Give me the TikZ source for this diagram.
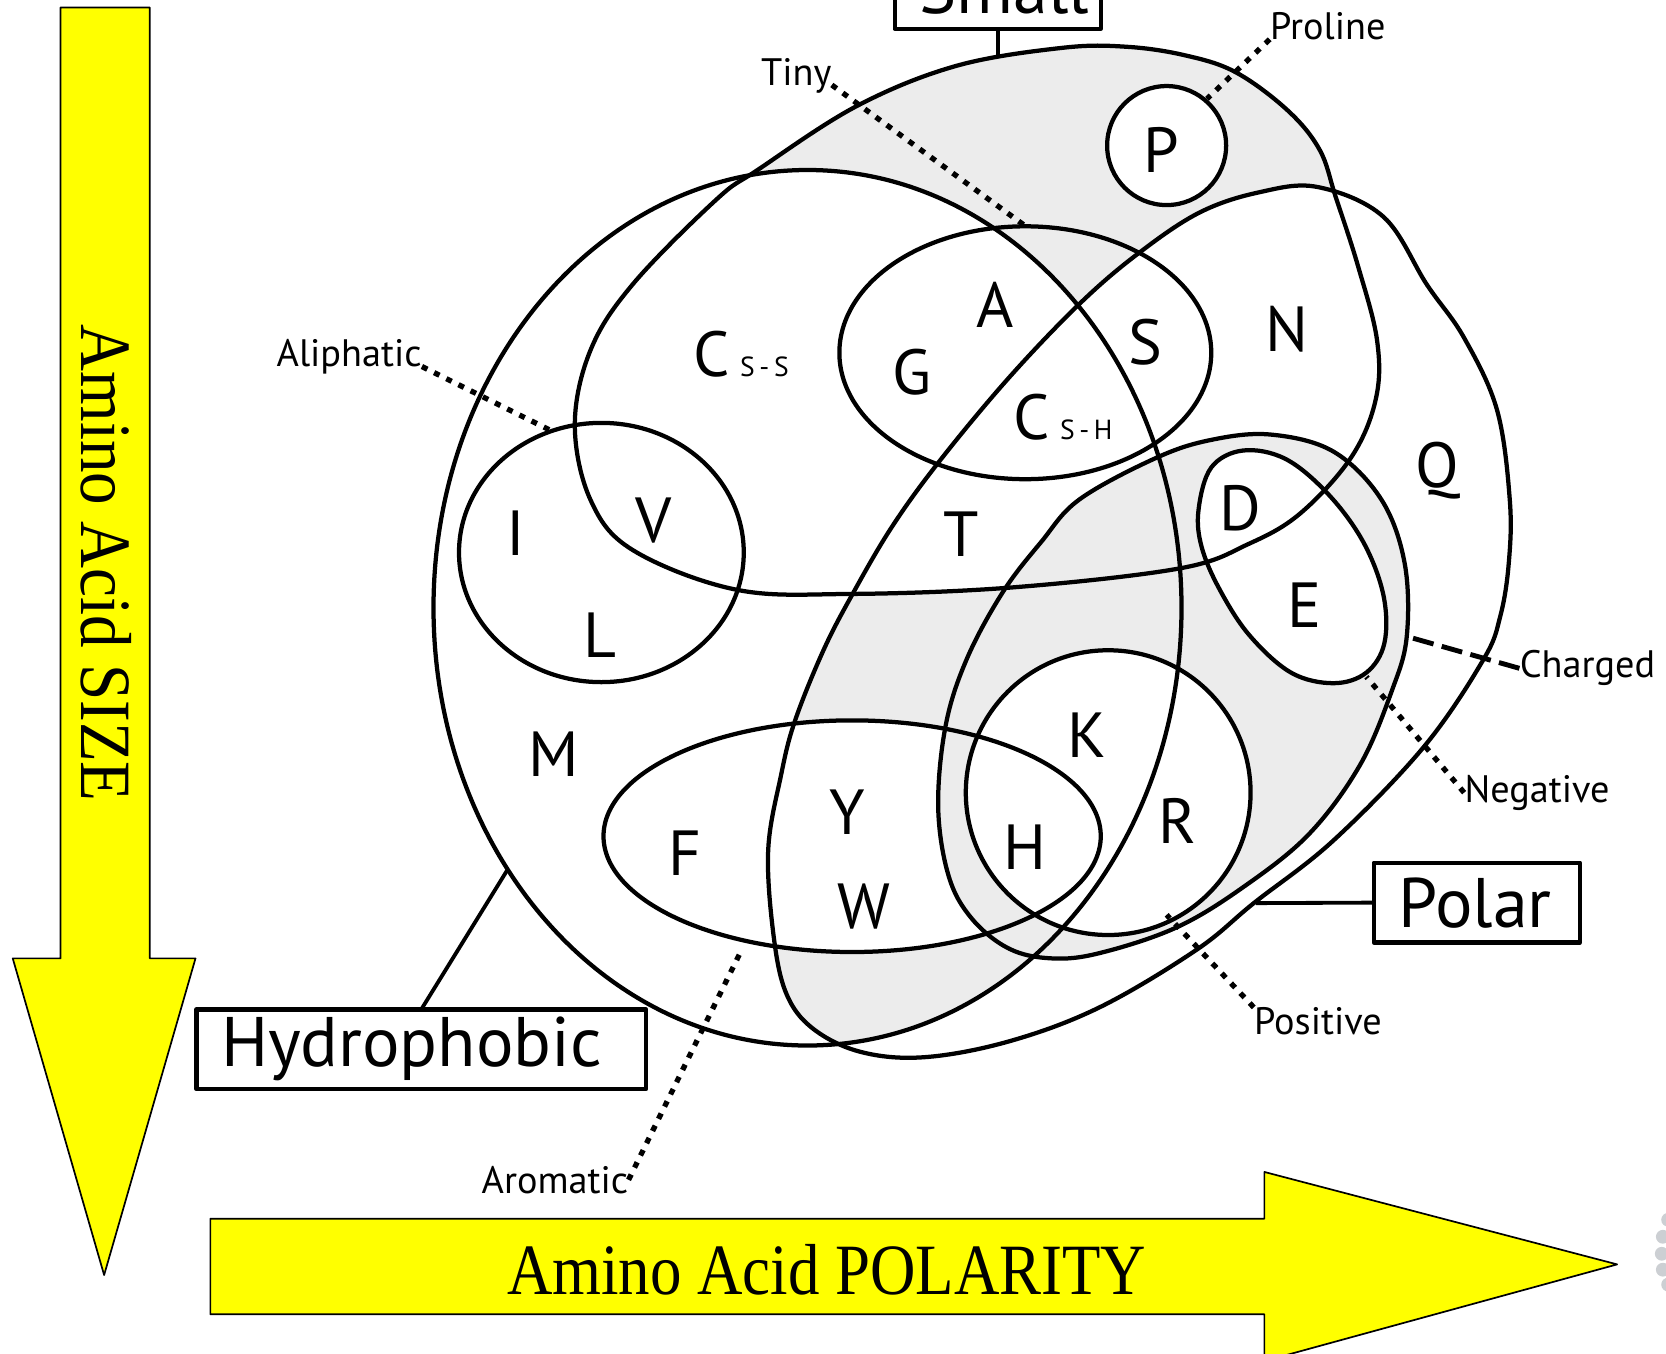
\documentclass[tikz,border=0pt]{standalone}
\usepackage{fontspec}
\usepackage{graphicx}
\setmainfont{PT Sans}
\newfontfamily\timesfam{Liberation Serif}
\definecolor{shadegray}{RGB}{236,236,236}
\definecolor{axisyellow}{RGB}{255,255,0}
\definecolor{dotgray}{RGB}{204,207,211}
\begin{document}
\begin{tikzpicture}[x=0.5pt,y=-0.5pt,line join=round,
  outl/.style={line width=2pt},
  conn/.style={line width=1.8pt},
  dotl/.style={line width=2.5pt,dash pattern=on 2.8pt off 3.6pt},
  dashl/.style={line width=2.3pt,dash pattern=on 10pt off 4pt},
  lab/.style={font=\fontsize{18}{20}\selectfont,inner sep=0pt},
  aa/.style={font=\fontsize{30}{30}\selectfont,inner sep=0pt},
  tagbox/.style={draw,line width=2pt,fill=white,font=\fontsize{33}{36}\selectfont,minimum height=37.5pt,inner xsep=11.5pt,inner ysep=0pt,align=left},
  axisarrow/.style={fill=axisyellow,draw=black,line width=0.8pt},
  axislab/.style={font=\timesfam\fontsize{34}{34}\selectfont,inner sep=0pt}
]
\useasboundingbox (0,0) rectangle (1568,1274);
\clip (0,0) rectangle (1568,1274);

% ---------- shape paths ----------
\def\hydroP{(760,572) ellipse [x radius=352, y radius=412]}
\def\tinyP{(965,332) ellipse [x radius=175, y radius=119]}
\def\alipP{(566,520) ellipse [x radius=134, y radius=122]}
\def\proP{(1098,137) ellipse [x radius=56, y radius=56]}
\def\aroP{(802,787) ellipse [x radius=234, y radius=109]}
\def\posP{(1043,746) ellipse [x radius=134, y radius=134]}
\def\smallP{plot[smooth cycle,tension=0.6] coordinates {(541,400) (556,329) (596,267) (674,188) (713,160) (806,100) (900,62) (1000,45) (1060,44) (1115,52) (1163,68) (1212,104) (1242,141) (1257,185) (1278,250) (1296,320) (1295,375) (1272,430) (1224,483) (1175,512) (1110,535) (951,553) (800,559) (693,555) (596,518) (556,471)}}
\def\polarP{plot[smooth cycle,tension=0.6] coordinates {(1017,285) (1072,238) (1129,200) (1185,181) (1240,176) (1302,204) (1343,268) (1378,318) (1409,386) (1421,471) (1420,530) (1412,580) (1396,621) (1340,703) (1255,791) (1180,850) (1126,894) (1035,948) (950,980) (870,995) (810,990) (765,968) (740,935) (728,880) (723,800) (735,730) (748,679) (775,612) (803,558) (840,495) (885,433) (950,355)}}
\def\chargedP{plot[smooth cycle,tension=0.6] coordinates {(1196,409) (1255,425) (1300,470) (1322,530) (1324,599) (1310,650) (1280,720) (1232,785) (1170,835) (1107,873) (1035,897) (990,902) (950,893) (915,865) (893,825) (883,760) (890,683) (910,620) (944,557) (980,510) (1016,470) (1088,431) (1140,414)}}
\def\negP{plot[smooth cycle,tension=0.6] coordinates {(1128,480) (1140,440) (1170,424) (1210,432) (1250,465) (1283,510) (1302,560) (1303,605) (1286,633) (1255,643) (1215,633) (1176,598) (1148,555) (1131,515)}}

% ---------- axis arrows ----------
\draw[axisarrow] (57,7) -- (141,7) -- (141,902) -- (184,902) -- (98,1200) -- (12,902) -- (57,902) -- cycle;
\draw[axisarrow] (198,1147) -- (1190,1147) -- (1190,1103) -- (1522,1190) -- (1190,1281) -- (1190,1237) -- (198,1237) -- cycle;
\node[axislab,rotate=-90] (sizelab) at (100,530) {\scalebox{0.9}[1]{Amino Acid SIZE}};
\node[axislab] (pollab) at (778,1195) {\scalebox{0.87}[1]{Amino Acid POLARITY}};
\foreach \p in {(1570,1148),(1565,1164),(1564,1180),(1565,1195),(1570,1209)} \fill[dotgray] \p circle [radius=6.5];

% ---------- shading ----------
\fill[shadegray] \smallP;
\fill[white] \hydroP;
\fill[white] \polarP;
\fill[white] \proP;
\begin{scope}
  \clip \polarP;
  \fill[shadegray] \hydroP;
\end{scope}
\begin{scope}
  \clip \polarP;
  \clip \hydroP;
  \fill[white] \smallP;
  \fill[white] \aroP;
\end{scope}
\fill[shadegray] \chargedP;
\fill[white] \negP;
\fill[white] \posP;

% ---------- outlines ----------
\draw[outl] \hydroP;
\draw[outl] \smallP;
\draw[outl] \tinyP;
\draw[outl] \alipP;
\draw[outl] \proP;
\draw[outl] \polarP;
\draw[outl] \chargedP;
\draw[outl] \negP;
\draw[outl] \posP;
\draw[outl] \aroP;

% ---------- amino acid letters ----------
\node[aa] (P) at (1093,141) {P};
\node[aa] (A) at (937,287) {A};
\node[aa] (G) at (858,350) {G};
\node[aa] (S) at (1078,322) {S};
\node[aa] (N) at (1211,310) {N};
\node[aa] (T) at (905,503) {T};
\node[aa] (V) at (615,490) {V};
\node[aa] (I) at (485,502) {I};
\node[aa] (L) at (565,598) {L};
\node[aa] (D) at (1167,478) {D};
\node[aa] (E) at (1228,570) {E};
\node[aa] (Q) at (1353,443) {Q};
\node[aa] (M) at (521,710) {M};
\node[aa] (K) at (1023,692) {K};
\node[aa] (R) at (1108,773) {R};
\node[aa] (H) at (965,797) {H};
\node[aa] (F) at (645,803) {F};
\node[aa] (Y) at (797,764) {Y};
\node[aa] (W) at (813,853) {W};
\node[aa,anchor=base west] (Css) at (652,354) {C\hspace{5pt}{\fontsize{13}{13}\selectfont S\,-\,S}};
\node[aa,anchor=base west] (Csh) at (953,414) {C\hspace{5pt}{\fontsize{13}{13}\selectfont S\,-\,H}};

% ---------- connector end points on the shapes ----------
\coordinate (tinyC) at (964,212);
\coordinate (proC) at (1136,93);
\coordinate (alipC) at (518,405);
\coordinate (chC) at (1324,599);
\coordinate (negC) at (1286,637);
\coordinate (posC) at (1098,861);
\coordinate (aroC) at (698,894);
\coordinate (hydC) at (478,818);
\coordinate (polC) at (1182,850);
\coordinate (smallC) at (939,52);

% ---------- small labels ----------
\node[lab,anchor=base west] (tinylab) at (716,80) {Tiny};
\node[lab,anchor=base west] (prolab) at (1195,37) {Proline};
\node[lab,anchor=base west] (aliplab) at (260,345) {Aliphatic};
\node[lab,anchor=base west] (chlab) at (1430,638) {Charged};
\node[lab,anchor=base west] (neglab) at (1378,755) {Negative};
\node[lab,anchor=base west] (poslab) at (1180,974) {Positive};
\node[lab,anchor=base west] (arolab) at (453,1123) {Aromatic};

\draw[dotl] (tinylab.base east) -- (tinyC);
\draw[dotl] (prolab.base west) -- (proC);
\draw[dotl] (aliplab.base east) -- (alipC);
\draw[dashl] (chlab.west) -- (chC);
\draw[dotl] (neglab.west) -- (negC);
\draw[dotl] (poslab.north west) -- (posC);
\draw[dotl] (arolab.east) -- (aroC);

% ---------- boxes ----------
\draw[conn] (396.5,950) -- (hydC);
\draw[conn] (1293,849.5) -- (polC);
\draw[conn] (939,27) -- (smallC);
\node[tagbox,text width=188.5pt] (hbox) at (396.5,987.5) {Hydrophobic};
\node[tagbox,text width=74pt] (pbox) at (1390,849.5) {Polar};
\node[tagbox,text width=74pt] (sbox) at (939,-10.5) {Small};
\end{tikzpicture}
\end{document}
